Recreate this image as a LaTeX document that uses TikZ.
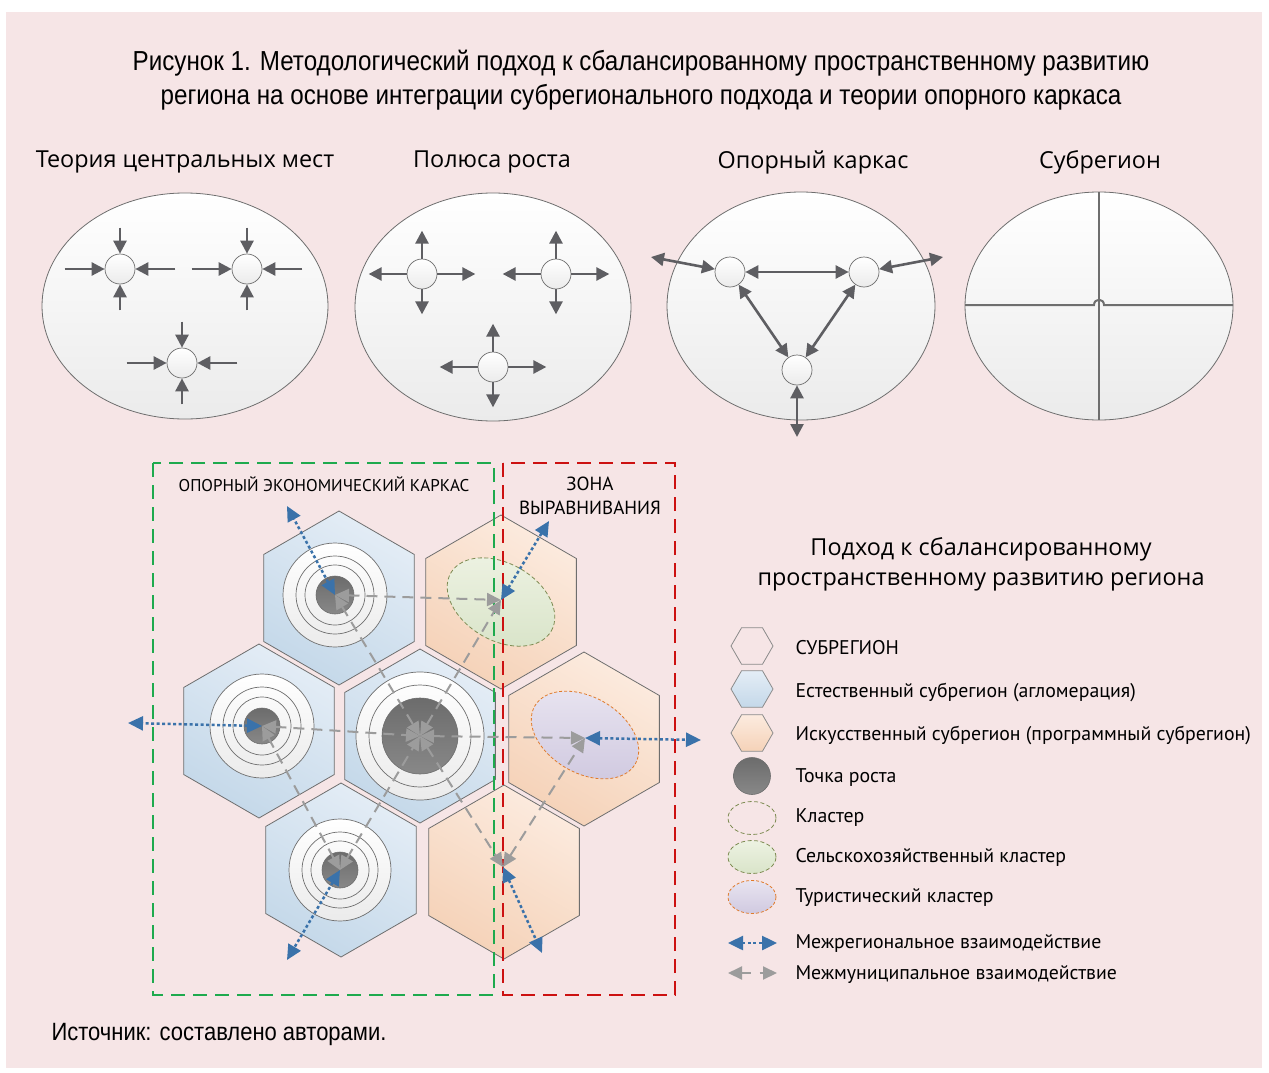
\documentclass[tikz,border=0pt]{standalone}
\usepackage{fontspec}
\setmainfont{Open Sans}
\newfontfamily\narrowf{Liberation Sans}[FakeStretch=0.88]
\newfontfamily\legf{PT Sans}
\usetikzlibrary{arrows.meta,shapes.geometric}
\definecolor{bg}{HTML}{F6E5E6}
\definecolor{edge}{HTML}{6E6E6E}
\definecolor{darkar}{HTML}{5E5E62}
\definecolor{blueL}{HTML}{E4EDF6}
\definecolor{blueD}{HTML}{C4D8E9}
\definecolor{orL}{HTML}{FCEBDF}
\definecolor{orD}{HTML}{F5D2B8}
\definecolor{grnL}{HTML}{EDF2E2}
\definecolor{grnD}{HTML}{D9E4C9}
\definecolor{grnB}{HTML}{7D8B52}
\definecolor{purL}{HTML}{E8E4F0}
\definecolor{purD}{HTML}{D0C9E0}
\definecolor{purB}{HTML}{E07B2C}
\definecolor{blueA}{HTML}{3A72AA}
\definecolor{grayA}{HTML}{9C9C9C}
\definecolor{boxG}{HTML}{1EAA4E}
\definecolor{boxR}{HTML}{CC1111}
\definecolor{ringD}{HTML}{EBEBEB}
\definecolor{gDark}{HTML}{6C6C6C}
\definecolor{gMid}{HTML}{888888}
\tikzset{
  bigell/.style={draw=edge, line width=0.8pt, top color=white, bottom color=ringD},
  smallc/.style={circle, draw=edge, line width=0.7pt, top color=white, bottom color=ringD, minimum size=30pt, inner sep=0pt},
  darr/.style={draw=darkar, line width=2.6pt, -{Triangle[length=13pt,width=13pt]}},
  ddarr/.style={draw=darkar, line width=2.6pt, {Triangle[length=13pt,width=13pt]}-{Triangle[length=13pt,width=13pt]}},
  hexshape/.style={regular polygon, regular polygon sides=6, shape border rotate=30, minimum size=174pt, inner sep=0pt, draw=edge, line width=0.8pt},
  hexb/.style={hexshape, top color=blueL, bottom color=blueD, shading angle=-30},
  hexo/.style={hexshape, top color=orL, bottom color=orD, shading angle=-30},
  ring/.style={circle, draw=edge, line width=0.7pt, top color=white, bottom color=ringD, inner sep=0pt},
  ringl/.style={circle, draw=edge, line width=0.7pt, inner sep=0pt},
  growth/.style={circle, draw=edge, line width=0.6pt, top color=gDark, bottom color=gMid, inner sep=0pt},
  clg/.style={ellipse, draw=grnB, line width=0.8pt, dash pattern=on 4pt off 2.5pt, top color=grnL, bottom color=grnD, inner sep=0pt},
  clp/.style={ellipse, draw=purB, line width=0.8pt, dash pattern=on 3pt off 2pt, top color=purL, bottom color=purD, inner sep=0pt},
  garr/.style={draw=grayA, line width=2pt, dash pattern=on 11pt off 7pt, {Triangle[length=14pt,width=13pt]}-{Triangle[length=14pt,width=13pt]}},
  barr/.style={draw=blueA, line width=2.5pt, dash pattern=on 3pt off 2.5pt, {Triangle[length=15pt,width=14pt]}-{Triangle[length=15pt,width=14pt]}},
  boxg/.style={draw=boxG, line width=2.2pt, dash pattern=on 14pt off 8pt},
  boxr/.style={draw=boxR, line width=2.2pt, dash pattern=on 14pt off 8pt},
  head/.style={font=\fontsize{23.4}{28}\selectfont},
  leg/.style={anchor=west, font=\legf\fontsize{19.8}{23}\selectfont},
  lhex/.style={regular polygon, regular polygon sides=6, minimum size=42pt, inner sep=0pt, draw=edge!80, line width=0.8pt}
}
\begin{document}
\begin{tikzpicture}[x=1pt,y=-1pt]
\useasboundingbox (0,0) rectangle (1269,1073);
\fill[white] (0,0) rectangle (1269,1073);
\fill[bg] (6,12) rectangle (1262,1068);

% title
\node[font=\narrowf\fontsize{27.5}{32}\selectfont] (t1) at (641,63) {Рисунок 1. Методологический подход к сбалансированному пространственному развитию};
\node[font=\narrowf\fontsize{27.5}{32}\selectfont] (t2) at (641,97) {региона на основе интеграции субрегионального подхода и теории опорного каркаса};

% headings
\node[head] (hd1) at (185,162) {Теория центральных мест};
\node[head] (hd2) at (492,162) {Полюса роста};
\node[head] (hd3) at (813,162) {Опорный каркас};
\node[head] (hd4) at (1100,162) {Субрегион};

% ellipses
\path[bigell] (185,306) ellipse [x radius=143, y radius=113];
\path[bigell] (493,307) ellipse [x radius=138, y radius=114];
\path[bigell] (801,306) ellipse [x radius=134, y radius=114];
\path[bigell] (1099,306) ellipse [x radius=134, y radius=114];

% central places
\foreach \n/\px/\py in {a/120/269, b/247/269, c/182/363}{
  \node[smallc] (cp\n) at (\px,\py) {};
  \draw[darr] (cp\n.west) ++(-40,0) -- (cp\n.west);
  \draw[darr] (cp\n.east) ++(40,0) -- (cp\n.east);
  \draw[darr] (cp\n.north) ++(0,-26) -- (cp\n.north);
  \draw[darr] (cp\n.south) ++(0,26) -- (cp\n.south);
}
% growth poles
\foreach \n/\px/\py in {a/422/274, b/556/274, c/493/367}{
  \node[smallc] (gp\n) at (\px,\py) {};
  \draw[darr] (gp\n.west) -- ++(-38,0);
  \draw[darr] (gp\n.east) -- ++(38,0);
  \draw[darr] (gp\n.north) -- ++(0,-28);
  \draw[darr] (gp\n.south) -- ++(0,25);
}
% framework
\node[smallc] (fa) at (730,272) {};
\node[smallc] (fb) at (864,272) {};
\node[smallc] (fc) at (797,370) {};
\coordinate (ea) at (651,257);
\coordinate (eb) at (943,257);
\coordinate (ec) at (797,437);
\draw[ddarr] (fa) -- (fb);
\draw[ddarr] (fa) -- (fc);
\draw[ddarr] (fb) -- (fc);
\draw[ddarr] (ea) -- (fa);
\draw[ddarr] (eb) -- (fb);
\draw[ddarr] (ec) -- (fc);
% subregion
\coordinate (sv1) at (1099,192);
\coordinate (sv2) at (1099,420);
\coordinate (sh1) at (965,305);
\coordinate (sh2) at (1233,305);
\draw[draw=edge, line width=2pt] (sv1) -- (sv2);
\draw[draw=edge, line width=2pt] (sh1) -- (1094,305) .. controls (1094,298) and (1104,298) .. (1104,305) -- (sh2);

% hexagons
\node[hexb] (h1) at (339,598) {};
\node[hexb] (h2) at (259,731) {};
\node[hexb] (h0) at (420,736) {};
\node[hexb] (h3) at (341,870) {};
\node[hexo] (h4) at (501,602) {};
\node[hexo] (h5) at (584,739) {};
\node[hexo] (h6) at (504,872) {};

% clusters
\node[clg, minimum width=116pt, minimum height=77pt, rotate=-30] (cg) at (501,602) {};
\node[clp, minimum width=116pt, minimum height=76pt, rotate=-30] (cpu) at (585,735) {};

% centres
\coordinate (c1) at (335,595);
\coordinate (c2) at (262,726);
\coordinate (c3) at (340,870);
\coordinate (c0) at (420,736);
\coordinate (c4) at (501,600);
\coordinate (c5) at (585,738);
\coordinate (c6) at (503,867);

\foreach \c/\da/\db/\dc/\dd in {1/104/78/60/38, 2/104/78/58/36, 3/102/76/58/36}{
  \node[ring, minimum size=\da pt] (ra\c) at (c\c) {};
  \node[ringl, minimum size=\db pt] (rb\c) at (c\c) {};
  \node[ringl, minimum size=\dc pt] (rc\c) at (c\c) {};
  \node[growth, minimum size=\dd pt] (gr\c) at (c\c) {};
}
\node[ring, minimum size=128pt] (ra0) at (c0) {};
\node[ringl, minimum size=102pt] (rb0) at (c0) {};
\node[growth, minimum size=76pt] (gr0) at (c0) {};

% boxes
\draw[boxg] (153,463) rectangle (494,995);
\draw[boxr] (503,463) rectangle (675,995);
\node[font=\legf\fontsize{17}{20}\selectfont] (lb1) at (324,484) {ОПОРНЫЙ ЭКОНОМИЧЕСКИЙ КАРКАС};
\node[font=\legf\fontsize{19}{24}\selectfont, align=center] (lb2) at (590,496) {ЗОНА\\ВЫРАВНИВАНИЯ};

% gray inter-municipal arrows
\draw[garr] (c1) -- (c4);
\draw[garr] (c1) -- (c0);
\draw[garr] (c0) -- (c6);
\draw[garr] (c3) -- (c0);
\draw[garr] (c0) -- (c4);
\draw[garr] (c2) -- (c0);
\draw[garr] (c0) -- (c5);
\draw[garr] (c2) -- (c3);
\draw[garr] (c6) -- (c5);

% blue inter-regional arrows
\coordinate (b1) at (287,506);
\coordinate (b2) at (128,723);
\coordinate (b3) at (287,960);
\coordinate (b4) at (549,521);
\coordinate (b5) at (701,740);
\coordinate (b6) at (542,953);
\draw[barr] (c1) -- (b1);
\draw[barr] (c2) -- (b2);
\draw[barr] (c3) -- (b3);
\draw[barr] (c4) -- (b4);
\draw[barr] (c5) -- (b5);
\draw[barr] (c6) -- (b6);

% right title
\node[head, align=center] (rt) at (981,564) {Подход к сбалансированному\\[2pt]пространственному развитию региона};

% legend
\node[lhex] (lg1) at (752,646) {};
\node[lhex, top color=blueL, bottom color=blueD] (lg2) at (752,689) {};
\node[lhex, top color=orL, bottom color=orD] (lg3) at (752,733) {};
\node[growth, minimum size=37pt] (lg4) at (752,776) {};
\node[ellipse, draw=grnB, line width=0.8pt, dash pattern=on 4pt off 2.5pt, minimum width=48pt, minimum height=33pt, inner sep=0pt] (lg5) at (752,818) {};
\node[clg, minimum width=48pt, minimum height=33pt] (lg6) at (752,857) {};
\node[clp, minimum width=48pt, minimum height=33pt] (lg7) at (752,897) {};
\coordinate (la1) at (728,943);
\coordinate (la2) at (777,943);
\coordinate (lb1a) at (728,973);
\coordinate (lb2a) at (777,973);
\draw[barr] (la1) -- (la2);
\draw[garr, dash pattern=on 9pt off 9pt] (lb1a) -- (lb2a);

\node[leg] (tx1) at (792,648) {СУБРЕГИОН};
\node[leg] (tx2) at (792,692) {Естественный субрегион (агломерация)};
\node[leg] (tx3) at (792,735) {Искусственный субрегион (программный субрегион)};
\node[leg] (tx4) at (792,778) {Точка роста};
\node[leg] (tx5) at (792,818) {Кластер};
\node[leg] (tx6) at (792,857) {Сельскохозяйственный кластер};
\node[leg] (tx7) at (792,898) {Туристический кластер};
\node[leg] (tx8) at (792,944) {Межрегиональное взаимодействие};
\node[leg] (tx9) at (792,975) {Межмуниципальное взаимодействие};

% source
\node[anchor=west, font=\narrowf\fontsize{25}{29}\selectfont] (src) at (48,1034) {Источник: составлено авторами.};
\end{tikzpicture}
\end{document}
